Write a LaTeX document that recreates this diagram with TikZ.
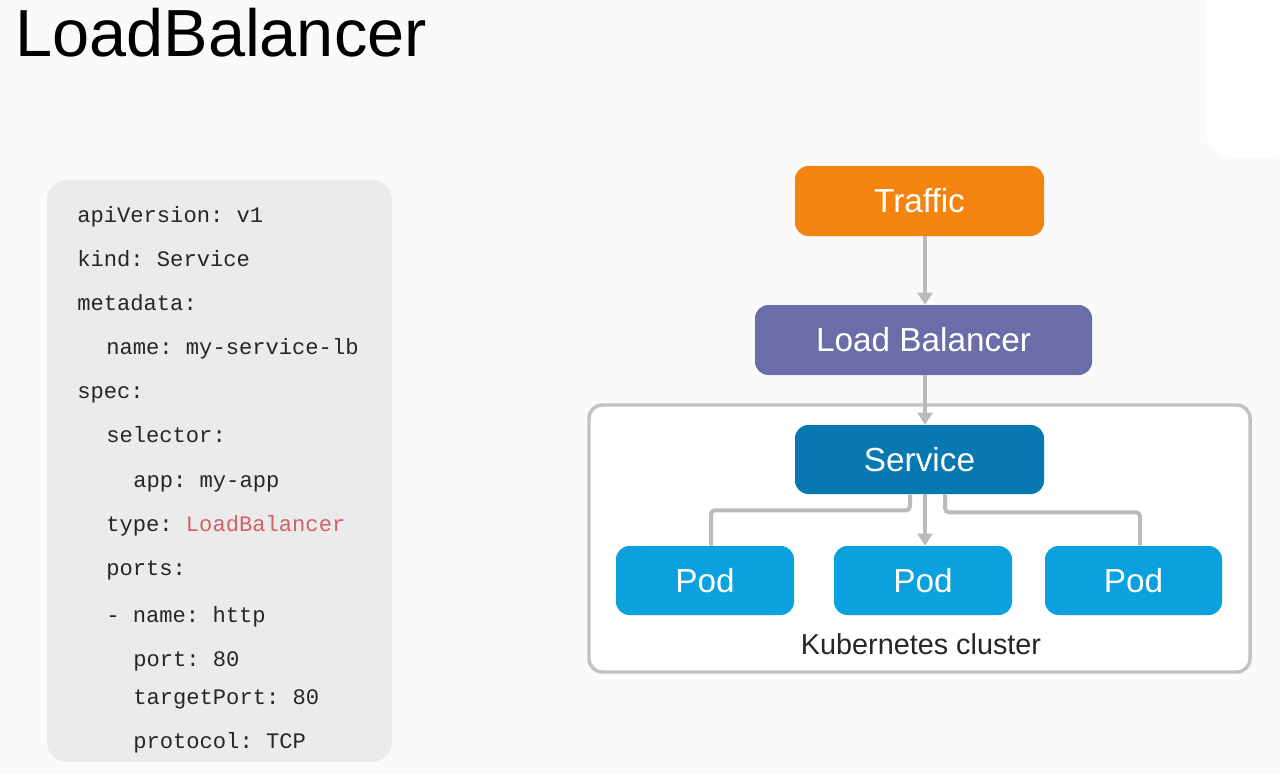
\documentclass[tikz,border=0pt]{standalone}
\usepackage{fontspec}
\setmainfont{Liberation Sans}
\setmonofont{Liberation Mono}
\usetikzlibrary{arrows.meta,calc}
\definecolor{bgc}{HTML}{FAFAFA}
\definecolor{codebg}{HTML}{EBEBEB}
\definecolor{codetxt}{HTML}{262626}
\definecolor{codered}{HTML}{D0606A}
\definecolor{trafficc}{HTML}{F4840F}
\definecolor{lbc}{HTML}{6A6DA8}
\definecolor{svcc}{HTML}{0878B3}
\definecolor{podc}{HTML}{0AA1DE}
\definecolor{linec}{HTML}{BBBBBB}
\definecolor{clusterc}{HTML}{C2C2C2}
\begin{document}
\begin{tikzpicture}[x=0.75pt,y=-0.75pt,
  codeline/.style={anchor=base west,inner sep=0pt,font=\fontsize{16.6}{18}\ttfamily,text=codetxt},
  box/.style={rounded corners=10pt,inner sep=0pt,text=white,font=\fontsize{25}{28}\selectfont},
  conn/.style={draw=linec,line width=3pt},
  arrowc/.style={conn,-{Triangle[length=9pt,width=11pt]}}]
\useasboundingbox (0,0) rectangle (1280,774);
\fill[bgc] (0,0) rectangle (1280,774);
\fill[white,rounded corners=22pt] (1205,-40) rectangle (1300,158);
% title
\node[anchor=base west,inner sep=0pt,font=\fontsize{50}{56}\selectfont,text=black] (title) at (15,57) {LoadBalancer};
% code panel
\fill[codebg,rounded corners=15pt] (47,180) rectangle (392,762);
\node[codeline] (c1) at (77,222) {apiVersion: v1};
\node[codeline] (c2) at (77,266) {kind: Service};
\node[codeline] (c3) at (77,310) {metadata:};
\node[codeline] (c4) at (106,354) {name: my-service-lb};
\node[codeline] (c5) at (77,398) {spec:};
\node[codeline] (c6) at (106,442) {selector:};
\node[codeline] (c7) at (133,487) {app: my-app};
\node[codeline] (c8) at (106,531) {type: \textcolor{codered}{LoadBalancer}};
\node[codeline] (c9) at (106,575) {ports:};
\node[codeline] (c10) at (106,622) {- name: http};
\node[codeline] (c11) at (133,666) {port: 80};
\node[codeline] (c12) at (133,704) {targetPort: 80};
\node[codeline] (c13) at (133,748) {protocol: TCP};
% cluster
\draw[clusterc,line width=2.6pt,fill=white,rounded corners=10pt] (589,405) rectangle (1250,672);
\node[inner sep=0pt,font=\fontsize{21.6}{24}\selectfont,text=black!85] (kc) at (921,644) {Kubernetes cluster};
% boxes
\node[box,fill=trafficc,minimum width=186.75pt,minimum height=52.5pt] (traffic) at (919.5,201) {Traffic};
\node[box,fill=lbc,minimum width=252.75pt,minimum height=52.5pt] (lb) at (923.5,340) {Load Balancer};
\node[box,fill=svcc,minimum width=186.75pt,minimum height=51.75pt] (svc) at (919.5,459.5) {Service};
\node[box,fill=podc,minimum width=133.5pt,minimum height=51.75pt] (pod1) at (705,580.5) {Pod};
\node[box,fill=podc,minimum width=133.5pt,minimum height=51.75pt] (pod2) at (923,580.5) {Pod};
\node[box,fill=podc,minimum width=132.75pt,minimum height=51.75pt] (pod3) at (1133.5,580.5) {Pod};
% connectors
\coordinate (ax) at (925,0);
\coordinate (lx) at (910,0);
\coordinate (rx) at (945,0);
\coordinate (p1x) at (711,0);
\coordinate (p3x) at (1140,0);
\draw[arrowc] (traffic.south -| ax) -- (lb.north -| ax);
\draw[arrowc] (lb.south -| ax) -- (svc.north -| ax);
\draw[arrowc] (svc.south -| ax) -- (pod2.north -| ax);
\draw[conn,rounded corners=3pt] (svc.south -| lx) -- ++(0,16) -| (pod1.north -| p1x);
\draw[conn,rounded corners=3pt] (svc.south -| rx) -- ++(0,18) -| (pod3.north -| p3x);
\end{tikzpicture}
\end{document}
